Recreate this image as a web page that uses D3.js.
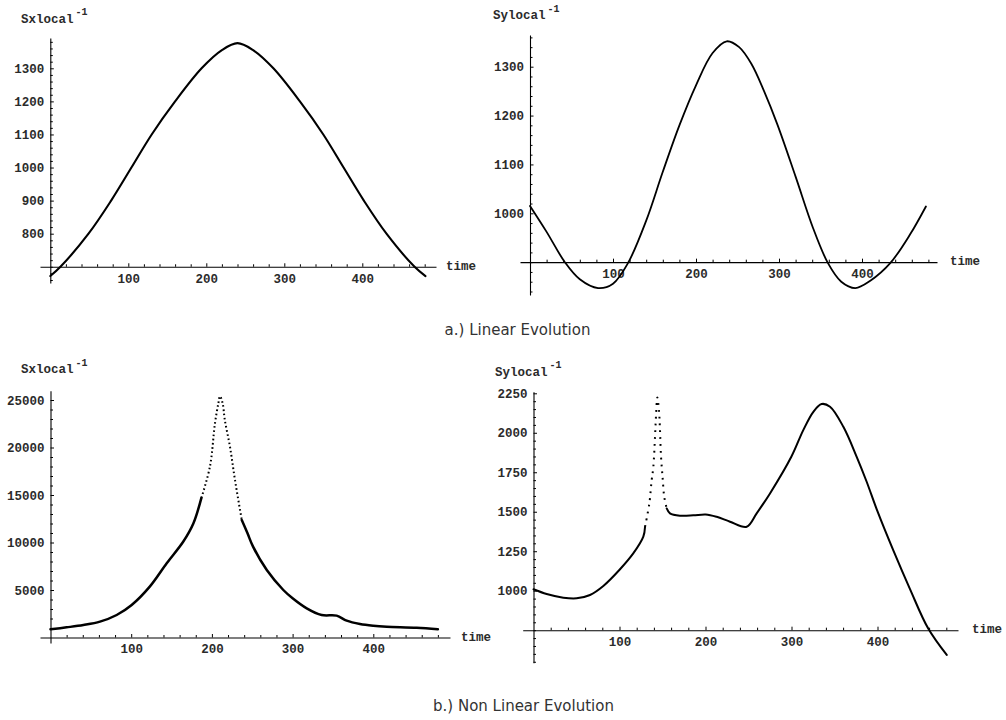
<!DOCTYPE html>
<html>
<head>
<meta charset="utf-8">
<script src="https://cdn.jsdelivr.net/npm/d3@7"></script>
<style>
  html, body { margin: 0; padding: 0; background: #fff; }
  svg { display: block; }
  .tick text, .lbl {
    font-family: "Liberation Mono", "Courier New", monospace;
    font-weight: bold;
    font-size: 12.5px;
    fill: #2b2b2b;
  }
  .sup {
    font-family: "Liberation Mono", "Courier New", monospace;
    font-weight: bold;
    font-size: 10px;
    fill: #2b2b2b;
  }
  .caption {
    font-family: "DejaVu Sans", Verdana, sans-serif;
    font-size: 15px;
    fill: #333;
  }
</style>
</head>
<body>
<svg id="chart" width="1006" height="720"></svg>
<script>
// ---- data -------------------------------------------------------------
// a.) linear evolution, x component
const timeA = [0, 13, 49, 78, 104, 130, 160, 194, 220, 240, 260, 286, 320, 350, 376, 402, 431, 467, 481];
const sxLinear = [672, 700, 800, 900, 1000, 1100, 1200, 1300, 1355, 1376, 1355, 1300, 1200, 1100, 1000, 900, 800, 700, 672];

// a.) linear evolution, y component
const timeB = [0, 20, 42, 60, 82, 100, 118, 140, 160, 180, 200, 220, 237, 252, 267, 282, 298, 320, 341, 359, 375, 392, 410, 434, 458, 477];
const syLinear = [1015, 962, 900, 865, 847, 856, 898, 985, 1085, 1180, 1262, 1328, 1352, 1340, 1305, 1250, 1182, 1075, 970, 898, 860, 847, 862, 898, 957, 1014];

// b.) non linear evolution, x component
const timeC = [0, 20, 40.7, 61.3, 82, 100.6, 123, 144, 164.6, 177, 187, 197.6, 203.8, 208, 210, 213.3, 216, 222.4, 228.6, 237, 244, 251, 268, 288.5, 300, 317.5, 336, 354.6, 367, 383.5, 400, 416.6, 453.8, 480];
const sxNonLinear = [860, 1070, 1316, 1670, 2370, 3420, 5350, 7810, 10100, 12000, 14700, 18000, 22550, 24650, 25400, 24650, 22900, 20080, 16580, 12370, 11000, 9560, 7100, 5000, 4130, 3070, 2370, 2300, 1770, 1420, 1240, 1140, 1030, 860];

// b.) non linear evolution, y component
const timeD = [0, 15.3, 34.7, 50.2, 65.7, 81.2, 99.8, 116, 127.7, 129.7, 134.7, 137.4, 139.3, 141.3, 142.4, 144, 146, 147, 148.3, 150.2, 152, 154.9, 158.7, 170.3, 185.8, 200.2, 213, 228.5, 247.9, 259.5, 275, 299.8, 313.7, 325.4, 335, 344.8, 360.3, 375.8, 387.4, 399.8, 418.4, 437.8, 459, 480.5];
const syNonLinear = [1009, 979, 956, 952, 973, 1030, 1131, 1236, 1342, 1405, 1553, 1700, 1781, 1975, 2101, 2224, 2133, 2028, 1848, 1711, 1595, 1521, 1490, 1475, 1477, 1483, 1468, 1437, 1405, 1490, 1616, 1848, 2017, 2133, 2182, 2165, 2038, 1848, 1690, 1505, 1255, 1010, 760, 593];

// tick labels
const timeTicks = [100, 200, 300, 400];
const yTicksA = [800, 900, 1000, 1100, 1200, 1300];
const yTicksB = [1000, 1100, 1200, 1300];
const yTicksC = [5000, 10000, 15000, 20000, 25000];
const yTicksD = [1000, 1250, 1500, 1750, 2000, 2250];

const captions = ["a.) Linear Evolution", "b.) Non Linear Evolution"];

// ---- panel layout -----------------------------------------------------
const panels = [
  {
    time: timeA, values: sxLinear, label: "Sxlocal", yTicks: yTicksA,
    xCal: [[100, 128.3], [400, 362.3]], yCal: [[800, 233.7], [1300, 68.3]],
    xExtent: [40, 436], yExtent: [283, 38], crossAt: 700,
    xMinor: 20, yMinor: 20, width: 2.1,
    labelAt: [21, 19.5], timeAt: 446
  },
  {
    time: timeB, values: syLinear, label: "Sylocal", yTicks: yTicksB,
    xCal: [[100, 613], [400, 862]], yCal: [[1000, 213.3], [1300, 66.7]],
    xExtent: [520, 937], yExtent: [295, 35], crossAt: 900,
    xMinor: 20, yMinor: 20, width: 1.8,
    labelAt: [493, 16], timeAt: 950
  },
  {
    time: timeC, values: sxNonLinear, label: "Sxlocal", yTicks: yTicksC,
    xCal: [[100, 131.2], [400, 373.3]], yCal: [[0, 637.5], [25000, 400]],
    xExtent: [40, 450], yExtent: [643, 390.7], crossAt: 0,
    xMinor: 20, yMinor: 1000, width: 2.5,
    dotted: [187, 237], dash: "1.6,2.6",
    labelAt: [21, 370], timeAt: 461
  },
  {
    time: timeD, values: syNonLinear, label: "Sylocal", yTicks: yTicksD,
    xCal: [[100, 619.5], [400, 877.5]], yCal: [[1000, 590.7], [2250, 393.3]],
    xExtent: [522.7, 958], yExtent: [662.7, 391.7], crossAt: 750,
    xMinor: 20, yMinor: 50, width: 2,
    dotted: [129.7, 154.9], dash: "1.8,5",
    labelAt: [495, 372.5], timeAt: 972
  }
];

const svg = d3.select("#chart");

// Build a scale from two known value/pixel pairs, then stretch it over the
// full drawn extent of the axis line.
function calibrated(cal, extent) {
  const s = d3.scaleLinear().domain([cal[0][0], cal[1][0]]).range([cal[0][1], cal[1][1]]);
  return s.copy().domain([s.invert(extent[0]), s.invert(extent[1])]).range(extent);
}

function minorValues(scale, step, majors) {
  const [a, b] = d3.extent(scale.domain());
  return d3.range(Math.ceil(a / step) * step, b, step)
    .filter(v => Math.abs(v) > 1e-9 && !majors.includes(v));
}

panels.forEach(p => {
  const x = calibrated(p.xCal, p.xExtent);
  const y = calibrated(p.yCal, p.yExtent);
  const g = svg.append("g");
  const x0 = x(0);
  const yAxisY = y(p.crossAt);

  // horizontal (time) axis
  g.append("g")
    .attr("transform", `translate(0,${yAxisY})`)
    .call(d3.axisBottom(x).tickValues(timeTicks).tickSizeInner(-3.5).tickSizeOuter(0).tickPadding(7).tickFormat(d3.format("d")))
    .call(a => a.select(".domain").attr("stroke", "#000").attr("stroke-width", 1.1));
  g.append("g")
    .attr("transform", `translate(0,${yAxisY})`)
    .call(d3.axisBottom(x).tickValues(minorValues(x, p.xMinor, timeTicks)).tickSizeInner(-2.5).tickSizeOuter(0).tickFormat(""))
    .call(a => a.select(".domain").remove());

  // vertical axis
  g.append("g")
    .attr("transform", `translate(${x0},0)`)
    .call(d3.axisLeft(y).tickValues(p.yTicks).tickSizeInner(-3.5).tickSizeOuter(0).tickPadding(6).tickFormat(d3.format("d")))
    .call(a => a.select(".domain").attr("stroke", "#000").attr("stroke-width", 1.1));
  g.append("g")
    .attr("transform", `translate(${x0},0)`)
    .call(d3.axisLeft(y).tickValues(minorValues(y, p.yMinor, p.yTicks)).tickSizeInner(-2.5).tickSizeOuter(0).tickFormat(""))
    .call(a => a.select(".domain").remove());

  g.selectAll(".tick line").attr("stroke", "#000");
  g.selectAll(".tick text").attr("fill", "#2b2b2b");

  // axis titles
  const lbl = g.append("text").attr("class", "lbl")
    .attr("x", p.labelAt[0]).attr("y", p.labelAt[1])
    .attr("dominant-baseline", "central")
    .text(p.label);
  const w = lbl.node().getComputedTextLength();
  g.append("text").attr("class", "sup")
    .attr("x", p.labelAt[0] + w + 2).attr("y", p.labelAt[1] - 7)
    .attr("dominant-baseline", "central")
    .text("-1");
  g.append("text").attr("class", "lbl")
    .attr("x", p.timeAt).attr("y", yAxisY)
    .attr("dominant-baseline", "central")
    .text("time");

  // the curve; the steep spike is drawn as a dotted trace
  const pts = p.time.map((t, i) => [t, p.values[i]]);
  const line = d3.line().x(d => x(d[0])).y(d => y(d[1])).curve(d3.curveCatmullRom.alpha(0.5));
  const pieces = [];
  if (p.dotted) {
    const [d0, d1] = p.dotted;
    pieces.push({ pts: pts.filter(d => d[0] <= d0), dash: null });
    pieces.push({ pts: pts.filter(d => d[0] >= d0 && d[0] <= d1), dash: p.dash });
    pieces.push({ pts: pts.filter(d => d[0] >= d1), dash: null });
  } else {
    pieces.push({ pts, dash: null });
  }
  pieces.forEach(pc => {
    g.append("path")
      .attr("d", line(pc.pts))
      .attr("fill", "none")
      .attr("stroke", "#000")
      .attr("stroke-width", pc.dash ? 2 : p.width)
      .attr("stroke-linejoin", "round")
      .attr("stroke-linecap", pc.dash ? "butt" : "round")
      .attr("stroke-dasharray", pc.dash);
  });
});

// captions
svg.append("text").attr("class", "caption")
  .attr("x", 517.5).attr("y", 330).attr("text-anchor", "middle").attr("dominant-baseline", "central")
  .text(captions[0]);
svg.append("text").attr("class", "caption")
  .attr("x", 523.5).attr("y", 706).attr("text-anchor", "middle").attr("dominant-baseline", "central")
  .text(captions[1]);
</script>
</body>
</html>
